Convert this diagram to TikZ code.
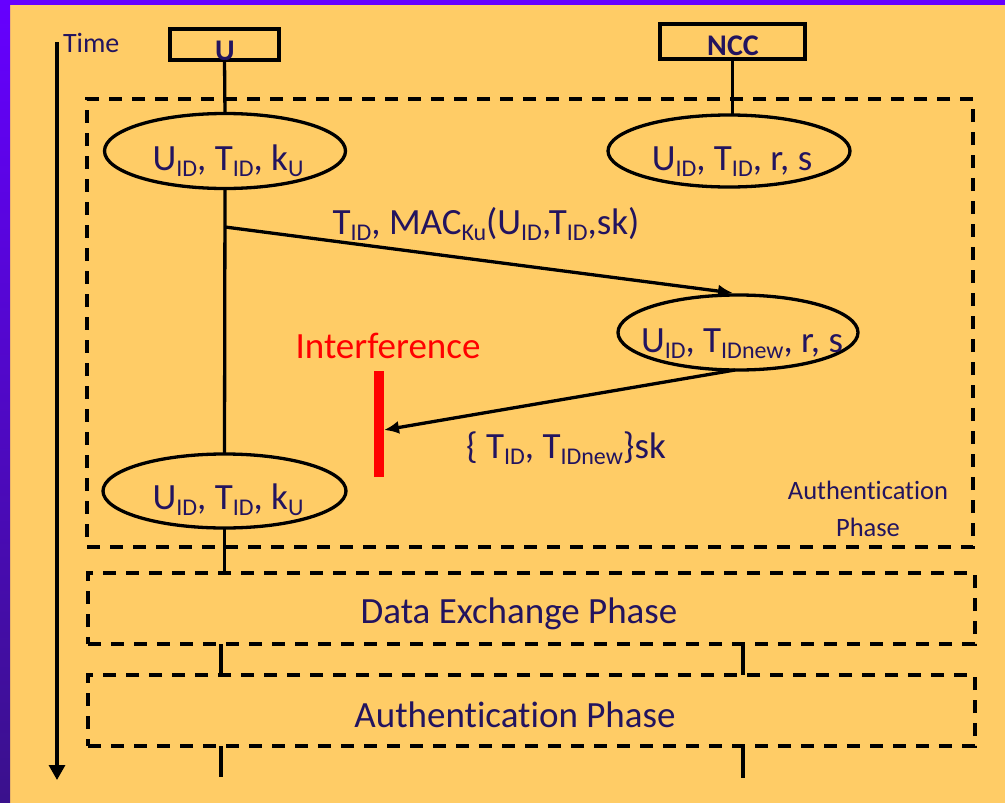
\documentclass[tikz,border=0pt]{standalone}
\usepackage{fontspec}
\setmainfont{Carlito}[Ligatures=CommonOff]
\usetikzlibrary{shapes.geometric,arrows.meta,calc}

\definecolor{paper}{RGB}{255,204,102}
\definecolor{ink}{RGB}{35,20,95}
\definecolor{frametop}{RGB}{102,0,255}
\definecolor{framebot}{RGB}{58,17,140}

% lowered, smaller index text
\newcommand{\sbs}[1]{\raisebox{-6.5pt}{\fontsize{24}{24}\selectfont #1}}

\begin{document}
\begin{tikzpicture}[x=1pt,y=-1pt,
  every node/.style={inner sep=0pt, outer sep=0pt},
  txt/.style={text=ink, font=\fontsize{37}{40}\selectfont, anchor=base},
  small/.style={text=ink, font=\fontsize{26.5}{37}\selectfont, align=center},
  partylabel/.style={text=ink, font=\fontsize{30}{32}\selectfont\bfseries, anchor=base},
  state/.style={ellipse, draw, line width=3.3pt, minimum width=241pt, minimum height=75pt},
  party/.style={rectangle, draw, line width=3.3pt},
  phase/.style={rectangle, draw, line width=3.5pt, dash pattern=on 13pt off 10pt},
  life/.style={line width=3.3pt},
  msg/.style={line width=3.3pt, -{Latex[length=15pt,width=13pt]}},
]
\useasboundingbox (0,0) rectangle (1005,803);

% slide background and frame
\fill[paper] (0,0) rectangle (1005,803);
\fill[frametop] (0,0) rectangle (1005,5);
\shade[top color=frametop, bottom color=framebot] (0,0) rectangle (10,803);

% time axis
\coordinate (t0) at (57,42);
\coordinate (t1) at (57,780);
\draw[line width=3.3pt, -{Triangle[length=15pt,width=16pt]}] (t0) -- (t1);
\node[text=ink, font=\fontsize{28}{30}\selectfont, anchor=base west] (time) at (63,52) {Time};

% parties
\node[party, minimum width=109pt, minimum height=31pt] (ubox) at (224.5,44.5) {};
\node[partylabel] (ulab) at (225,60) {U};
\node[party, minimum width=145pt, minimum height=35pt] (nbox) at (732.5,41.5) {};
\node[partylabel] (nlab) at (733,56) {NCC};

% phase frames
\node[phase, minimum width=886pt, minimum height=448pt] (auth1) at (530,323) {};
\node[phase, minimum width=887pt, minimum height=71pt] (data) at (531.5,608.5) {};
\node[phase, minimum width=887pt, minimum height=71pt] (auth2) at (531.5,710.5) {};
\node[small] (auth1lab) at (868,509) {Authentication\\Phase};
\node[txt] (datalab) at (519,623) {Data Exchange Phase};
\node[txt] (auth2lab) at (515,727) {Authentication Phase};

% stored values
\node[state] (u1) at (225,151) {};
\node[txt] (u1t) at (228,170) {U\sbs{ID}, T\sbs{ID}, k\sbs{U}};
\node[state, minimum width=242pt, minimum height=72pt] (n1) at (729,151) {};
\node[txt] (n1t) at (732,170) {U\sbs{ID}, T\sbs{ID}, r, s};
\node[state, minimum width=240pt] (n2) at (738,332.5) {};
\node[txt] (n2t) at (742,352) {U\sbs{ID}, T\sbs{IDnew}, r, s};
\node[state, minimum width=243pt, minimum height=74pt] (u2) at (224.5,491) {};
\node[txt] (u2t) at (228,509) {U\sbs{ID}, T\sbs{ID}, k\sbs{U}};

% interference
\node[text=red, font=\fontsize{37}{40}\selectfont, anchor=base] (intlab) at (388,358) {Interference};
\node[fill=red, minimum width=10pt, minimum height=106pt] (bar) at (379,424) {};

% lifelines
\coordinate (ux) at (221,0);
\coordinate (nx) at (743,0);
\coordinate (uend) at (221,777);
\coordinate (nend) at (743,778);
\draw[life] (ubox.south) -- (u1.north);
\draw[life] (nbox.south) -- (nbox.south |- n1.north);
\draw[life] (u1.south) -- (u2.north);
\draw[life] ($(n1.south)+(6,0)$) -- ($(n1.south)+(6,0)$ |- n2.north);
\draw[life] ($(n2.south)+(3,0)$) -- ($(n2.south)+(3,0)$ |- data.north);
\draw[life] (u2.south) -- (u2.south |- data.north);
\draw[life] (ux |- data.south) -- (ux |- auth2.north);
\draw[life] (nx |- data.south) -- (nx |- auth2.north);
\draw[life] (ux |- auth2.south) -- (uend);
\draw[life] (nx |- auth2.south) -- (nend);

% messages
\coordinate (m1a) at (225,227);
\coordinate (m1b) at (733,293);
\draw[msg] (m1a) -- (m1b);
\node[txt] (m1lab) at (486,234) {T\sbs{ID}, MAC\sbs{Ku}(U\sbs{ID},T\sbs{ID},sk)};
\draw[msg] ($(n2.south)+(-3,0)$) -- ([yshift=-6pt]bar.east);
\node[txt] (m2lab) at (566,458) {\{ T\sbs{ID}, T\sbs{IDnew}\}sk};
\end{tikzpicture}
\end{document}
